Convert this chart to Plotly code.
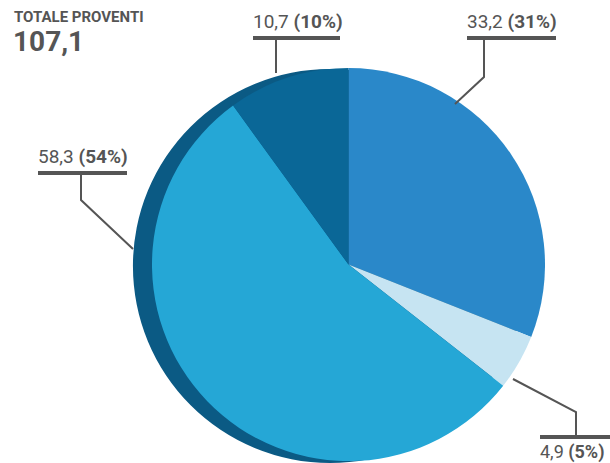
import plotly.graph_objects as go

# ---- data ----
values = [33.2, 4.9, 58.3, 10.7]
slice_colors = ["#2a88c9", "#c6e4f2", "#25a7d6", "#0a6797"]
title_label = "TOTALE PROVENTI"

W, H = 610, 463
total = sum(values)

def fmt(v):
    return f"{v:.1f}".replace(".", ",")

pcts = [round(v / total * 100) for v in values]
labels = [f"{fmt(v)} <b>({p}%)</b>" for v, p in zip(values, pcts)]

def px(x):
    return x / W

def py(y):
    return 1 - y / H

fig = go.Figure()

# shadow disc (3D edge)
fig.add_trace(go.Pie(
    values=[1], marker=dict(colors=["#0b5a84"], line=dict(width=0)),
    textinfo="none", hoverinfo="skip", showlegend=False, sort=False,
    domain=dict(x=[px(133), px(527)], y=[0.0, 0.851]),
))

# main pie
fig.add_trace(go.Pie(
    values=values, marker=dict(colors=slice_colors, line=dict(width=0)),
    textinfo="none", showlegend=False, sort=False, direction="clockwise",
    rotation=0,
    domain=dict(x=[px(152), px(545)], y=[0.004, 0.853]),
))

FONT = "Roboto, Liberation Sans, sans-serif"
GRAY = "#555555"

# label layout: bar span, bar y, leader path points, text above?, font size
label_layout = [
    dict(x0=467, x1=556, bar_y=38, path=[(484, 39), (484, 77), (455, 104)], above=True, size=19),
    dict(x0=540, x1=610, bar_y=437, path=[(576, 436), (576, 412), (513, 379)], above=False, size=18),
    dict(x0=38, x1=127, bar_y=173, path=[(81, 174), (81, 200), (133, 249)], above=True, size=19),
    dict(x0=253, x1=340, bar_y=38, path=[(276, 39), (276, 73)], above=True, size=19),
]

shapes = []
annotations = []
for lab, L in zip(labels, label_layout):
    shapes.append(dict(type="line", xref="paper", yref="paper",
                       x0=px(L["x0"]), x1=px(L["x1"]), y0=py(L["bar_y"]), y1=py(L["bar_y"]),
                       line=dict(color=GRAY, width=4)))
    pts = L["path"]
    path = "M " + " L ".join(f"{px(a)},{py(b)}" for a, b in pts)
    shapes.append(dict(type="path", xref="paper", yref="paper", path=path,
                       line=dict(color=GRAY, width=2)))
    if L["above"]:
        annotations.append(dict(xref="paper", yref="paper", x=px(L["x0"] - 2), y=py(L["bar_y"] - 3),
                                xanchor="left", yanchor="bottom", text=lab, showarrow=False,
                                font=dict(family=FONT, size=L["size"], color=GRAY)))
    else:
        annotations.append(dict(xref="paper", yref="paper", x=px(L["x0"] - 2), y=py(L["bar_y"] + 2),
                                xanchor="left", yanchor="top", text=lab, showarrow=False,
                                font=dict(family=FONT, size=L["size"], color=GRAY)))

annotations.append(dict(xref="paper", yref="paper", x=px(12), y=py(6), xanchor="left", yanchor="top",
                        text=f"<b>{title_label}</b>", showarrow=False,
                        font=dict(family=FONT, size=15, color=GRAY)))
annotations.append(dict(xref="paper", yref="paper", x=px(11), y=py(23), xanchor="left", yanchor="top",
                        text=f"<b>{fmt(total)}</b>", showarrow=False,
                        font=dict(family=FONT, size=28, color=GRAY)))

fig.update_layout(
    width=W, height=H, margin=dict(l=0, r=0, t=0, b=0),
    paper_bgcolor="white", plot_bgcolor="white",
    shapes=shapes, annotations=annotations,
)

fig.write_html("out.html")
